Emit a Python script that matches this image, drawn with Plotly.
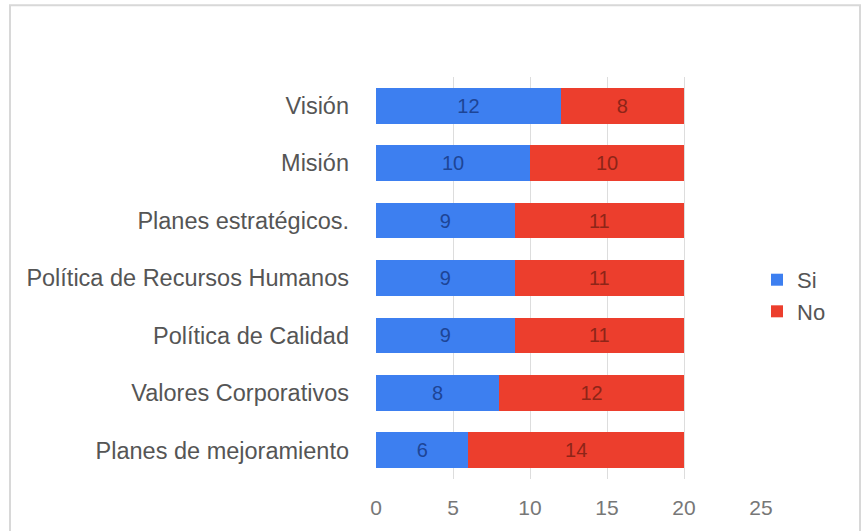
import plotly.graph_objects as go

categories = ["Visión", "Misión", "Planes estratégicos.", "Política de Recursos Humanos",
              "Política de Calidad", "Valores Corporativos", "Planes de mejoramiento"]
si_values = [12, 10, 9, 9, 9, 8, 6]
no_values = [8, 10, 11, 11, 11, 12, 14]
x_ticks = [0, 5, 10, 15, 20, 25]

fig = go.Figure()
fig.add_trace(go.Bar(
    y=categories, x=si_values, name="Si", orientation="h",
    marker=dict(color="#3d7ff0", line=dict(width=0)),
    text=si_values, textposition="inside", insidetextanchor="middle",
    constraintext="none",
    textfont=dict(color="#1d4596", size=20, family="Liberation Sans, Arial"),
))
fig.add_trace(go.Bar(
    y=categories, x=no_values, name="No", orientation="h",
    marker=dict(color="#ec3e2d", line=dict(width=0)),
    text=no_values, textposition="inside", insidetextanchor="middle",
    constraintext="none",
    textfont=dict(color="#8e2518", size=20, family="Liberation Sans, Arial"),
))

W, H = 863, 531
L, R, T, B = 376, 102, 77, 50
pw, ph = W - L - R, H - T - B

def px(x):
    return (x - L) / pw

def py(y):
    return (H - B - y) / ph

fig.update_layout(
    width=W, height=H,
    barmode="stack", bargap=0.38,
    margin=dict(l=L, r=R, t=T, b=B, pad=0),
    paper_bgcolor="white", plot_bgcolor="white",
    font=dict(family="Liberation Sans, Arial", color="#555555"),
    showlegend=True,
    legend=dict(x=px(757), y=py(297), xanchor="left", yanchor="middle",
                traceorder="normal",
                font=dict(size=22, color="#555555"), itemwidth=30,
                tracegroupgap=2, bgcolor="rgba(0,0,0,0)"),
    xaxis=dict(range=[0, 25], tickvals=x_ticks, showgrid=True, gridcolor="#dddddd",
               gridwidth=1, zeroline=False, showline=False,
               tickfont=dict(size=21, color="#777777"), ticks="", ticklabelstandoff=14),
    yaxis=dict(categoryorder="array", categoryarray=categories[::-1],
               autorange=False, range=[-0.5, len(categories) - 0.5],
               showgrid=False, zeroline=False, showline=False, ticks="",
               tickfont=dict(size=23.5, color="#555555"), ticklabelstandoff=26),
    shapes=[dict(type="rect", xref="paper", yref="paper",
                 x0=px(10), x1=px(860), y0=py(540), y1=py(5),
                 line=dict(color="#d8d8d8", width=2), fillcolor="rgba(0,0,0,0)",
                 layer="below")],
)

fig.write_html("out.html")
